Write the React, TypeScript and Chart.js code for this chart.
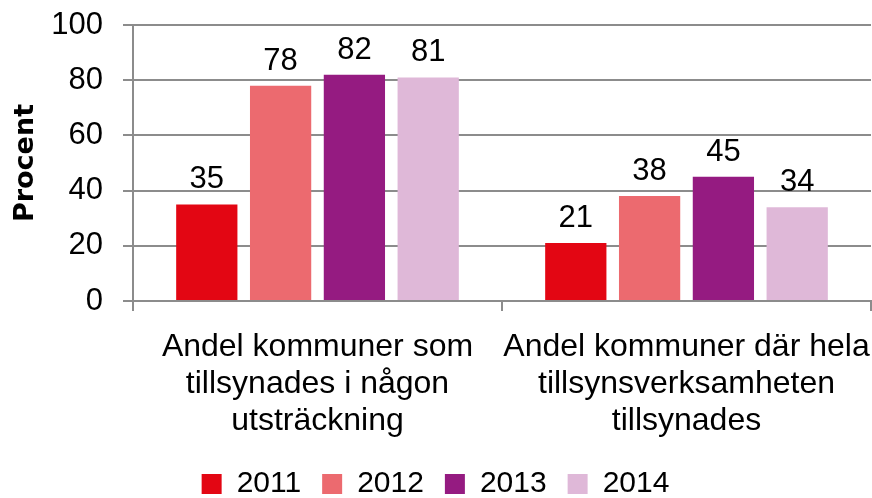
import React, { useEffect, useRef } from "react";
import { Chart, registerables } from "chart.js";

Chart.register(...registerables);

const categories: string[][] = [
  ["Andel kommuner som", "tillsynades i någon", "utsträckning"],
  ["Andel kommuner där hela", "tillsynsverksamheten", "tillsynades"],
];
const seriesNames = ["2011", "2012", "2013", "2014"];
const values2011 = [35, 21];
const values2012 = [78, 38];
const values2013 = [82, 45];
const values2014 = [81, 34];
const colors = ["#E30613", "#EC6A6F", "#951B81", "#DFB8D8"];
const yTicks = [0, 20, 40, 60, 80, 100];

const FONT = "'Liberation Sans', Arial, sans-serif";
const TITLE_FONT = "'DejaVu Sans', sans-serif";
const SIZE = 31;

const valueLabels = {
  id: "valueLabels",
  afterDatasetsDraw(chart: any) {
    const ctx = chart.ctx;
    ctx.save();
    ctx.font = `${SIZE}px ${FONT}`;
    ctx.fillStyle = "#000";
    ctx.textAlign = "center";
    ctx.textBaseline = "alphabetic";
    chart.data.datasets.forEach((ds: any, i: number) => {
      const meta = chart.getDatasetMeta(i);
      meta.data.forEach((bar: any, j: number) => {
        ctx.fillText(String(ds.data[j]), bar.x, bar.y - 16);
      });
    });
    ctx.restore();
  },
};

export default function App() {
  const ref = useRef<HTMLCanvasElement>(null);
  useEffect(() => {
    if (!ref.current) return;
    const allValues = [values2011, values2012, values2013, values2014];
    const chart = new Chart(ref.current, {
      type: "bar",
      data: {
        labels: categories,
        datasets: seriesNames.map((name, i) => ({
          label: name,
          data: allValues[i],
          backgroundColor: colors[i],
          categoryPercentage: 0.8,
          barPercentage: 0.83,
        })),
      },
      options: {
        animation: false,
        responsive: false,
        maintainAspectRatio: false,
        layout: { padding: { left: 0, right: 1, top: 25, bottom: -11 } },
        plugins: {
          legend: {
            position: "bottom",
            labels: {
              font: { family: FONT, size: 30, lineHeight: 1 },
              color: "#000",
              boxWidth: 20,
              boxHeight: 20,
              padding: 21,
            },
          },
          tooltip: { enabled: false },
        },
        scales: {
          x: {
            afterFit: (s: any) => {
              s.height = 147;
              s.paddingLeft = 0;
              s.paddingRight = 0;
            },
            grid: {
              offset: true,
              drawOnChartArea: false,
              drawTicks: true,
              tickLength: 10,
              color: "#8c8c8c",
              lineWidth: 2,
            },
            border: { color: "#8c8c8c", width: 2 },
            ticks: {
              font: { family: FONT, size: 32, lineHeight: 1.15 },
              color: "#000",
              maxRotation: 0,
              autoSkip: false,
              padding: 18,
            },
          },
          y: {
            min: 0,
            max: 100,
            afterBuildTicks: (s: any) => {
              s.ticks = yTicks.map((v) => ({ value: v }));
            },
            afterFit: (s: any) => {
              s.width = 133;
              s.paddingTop = 0;
              s.paddingBottom = 0;
            },
            grid: {
              color: "#8c8c8c",
              lineWidth: 2,
              tickLength: 10,
            },
            border: { color: "#8c8c8c", width: 2 },
            ticks: {
              font: { family: FONT, size: SIZE },
              color: "#000",
              padding: 20,
            },
            title: {
              display: true,
              text: "Procent",
              font: { family: TITLE_FONT, size: 27, weight: "bold" },
              color: "#000",
              padding: { top: 10, bottom: 4 },
            },
          },
        },
      },
      plugins: [valueLabels],
    });
    return () => chart.destroy();
  }, []);
  return (
    <div style={{ position: "absolute", left: 0, top: 0, width: 872, height: 498, background: "#fff" }}>
      <canvas ref={ref} width={872} height={498} />
    </div>
  );
}
